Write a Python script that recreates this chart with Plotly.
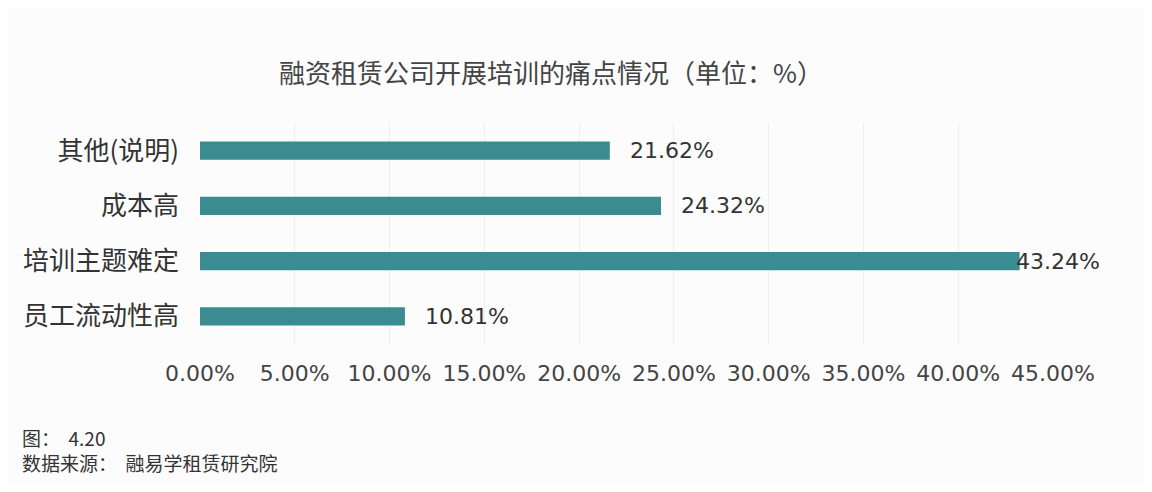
import plotly.graph_objects as go

categories = ["其他(说明)", "成本高", "培训主题难定", "员工流动性高"]
values = [21.62, 24.32, 43.24, 10.81]
tick_vals = [0, 5, 10, 15, 20, 25, 30, 35, 40, 45]
tick_text = [f"{v:.2f}%" for v in tick_vals]
value_labels = [f"{v:.2f}%" for v in values]

font_cjk = "Noto Sans CJK SC, Noto Sans, sans-serif"
font_num = "DejaVu Sans, Noto Sans CJK SC, sans-serif"

# page body adds an 8px offset; figure occupies 8..1144 x 8..484
OFF = 8
W, H = 1152 - 2 * OFF, 492 - 2 * OFF
L, R, T, B = 200 - OFF, 1144 - 1053, 123 - OFF, 484 - 344
PW, PH = W - L - R, H - T - B

fig = go.Figure()
fig.add_trace(go.Bar(
    x=values, y=categories, orientation="h",
    marker=dict(color="#3a8c90", line=dict(width=0)),
    width=0.33, hoverinfo="skip", showlegend=False,
))

for c, v, t in zip(categories, values, value_labels):
    shift = 18 if v < 40 else -6
    fig.add_annotation(x=v, y=c, xref="x", yref="y", text=t, showarrow=False,
                       xanchor="left", yanchor="middle", xshift=shift,
                       font=dict(family=font_num, size=22, color="#333333"))

def py(pix):
    # convert absolute screen y pixel to paper coordinate
    return (344 - pix) / PH

def px(pix):
    return (pix - 200) / PW

fig.add_annotation(x=px(551), y=py(72), xref="paper", yref="paper",
                   text="融资租赁公司开展培训的痛点情况（单位：%）",
                   showarrow=False, xanchor="center", yanchor="middle",
                   font=dict(family=font_cjk, size=26, color="#444444"))

fig.add_annotation(x=px(20), y=py(437), xref="paper", yref="paper",
                   text="图：  4.20", showarrow=False, xanchor="left", yanchor="middle",
                   font=dict(family=font_cjk, size=19, color="#333333"))
fig.add_annotation(x=px(20), y=py(463), xref="paper", yref="paper",
                   text="数据来源：  融易学租赁研究院", showarrow=False, xanchor="left", yanchor="middle",
                   font=dict(family=font_cjk, size=19, color="#333333"))

fig.update_layout(
    width=W, height=H,
    margin=dict(l=L, r=R, t=T, b=B),
    paper_bgcolor="#fcfcfc", plot_bgcolor="#fcfcfc",
    xaxis=dict(range=[0, 45], tickvals=tick_vals, ticktext=tick_text,
               showgrid=True, gridcolor="#eeeeee", gridwidth=1,
               zeroline=False, showline=False, ticks="", ticklabelstandoff=14,
               tickfont=dict(family=font_num, size=22, color="#444444")),
    yaxis=dict(categoryorder="array", categoryarray=categories, autorange="reversed",
               showgrid=False, zeroline=False, showline=False, ticks="", ticklabelstandoff=20,
               tickfont=dict(family=font_cjk, size=26, color="#333333")),
)

fig.write_html("out.html")
